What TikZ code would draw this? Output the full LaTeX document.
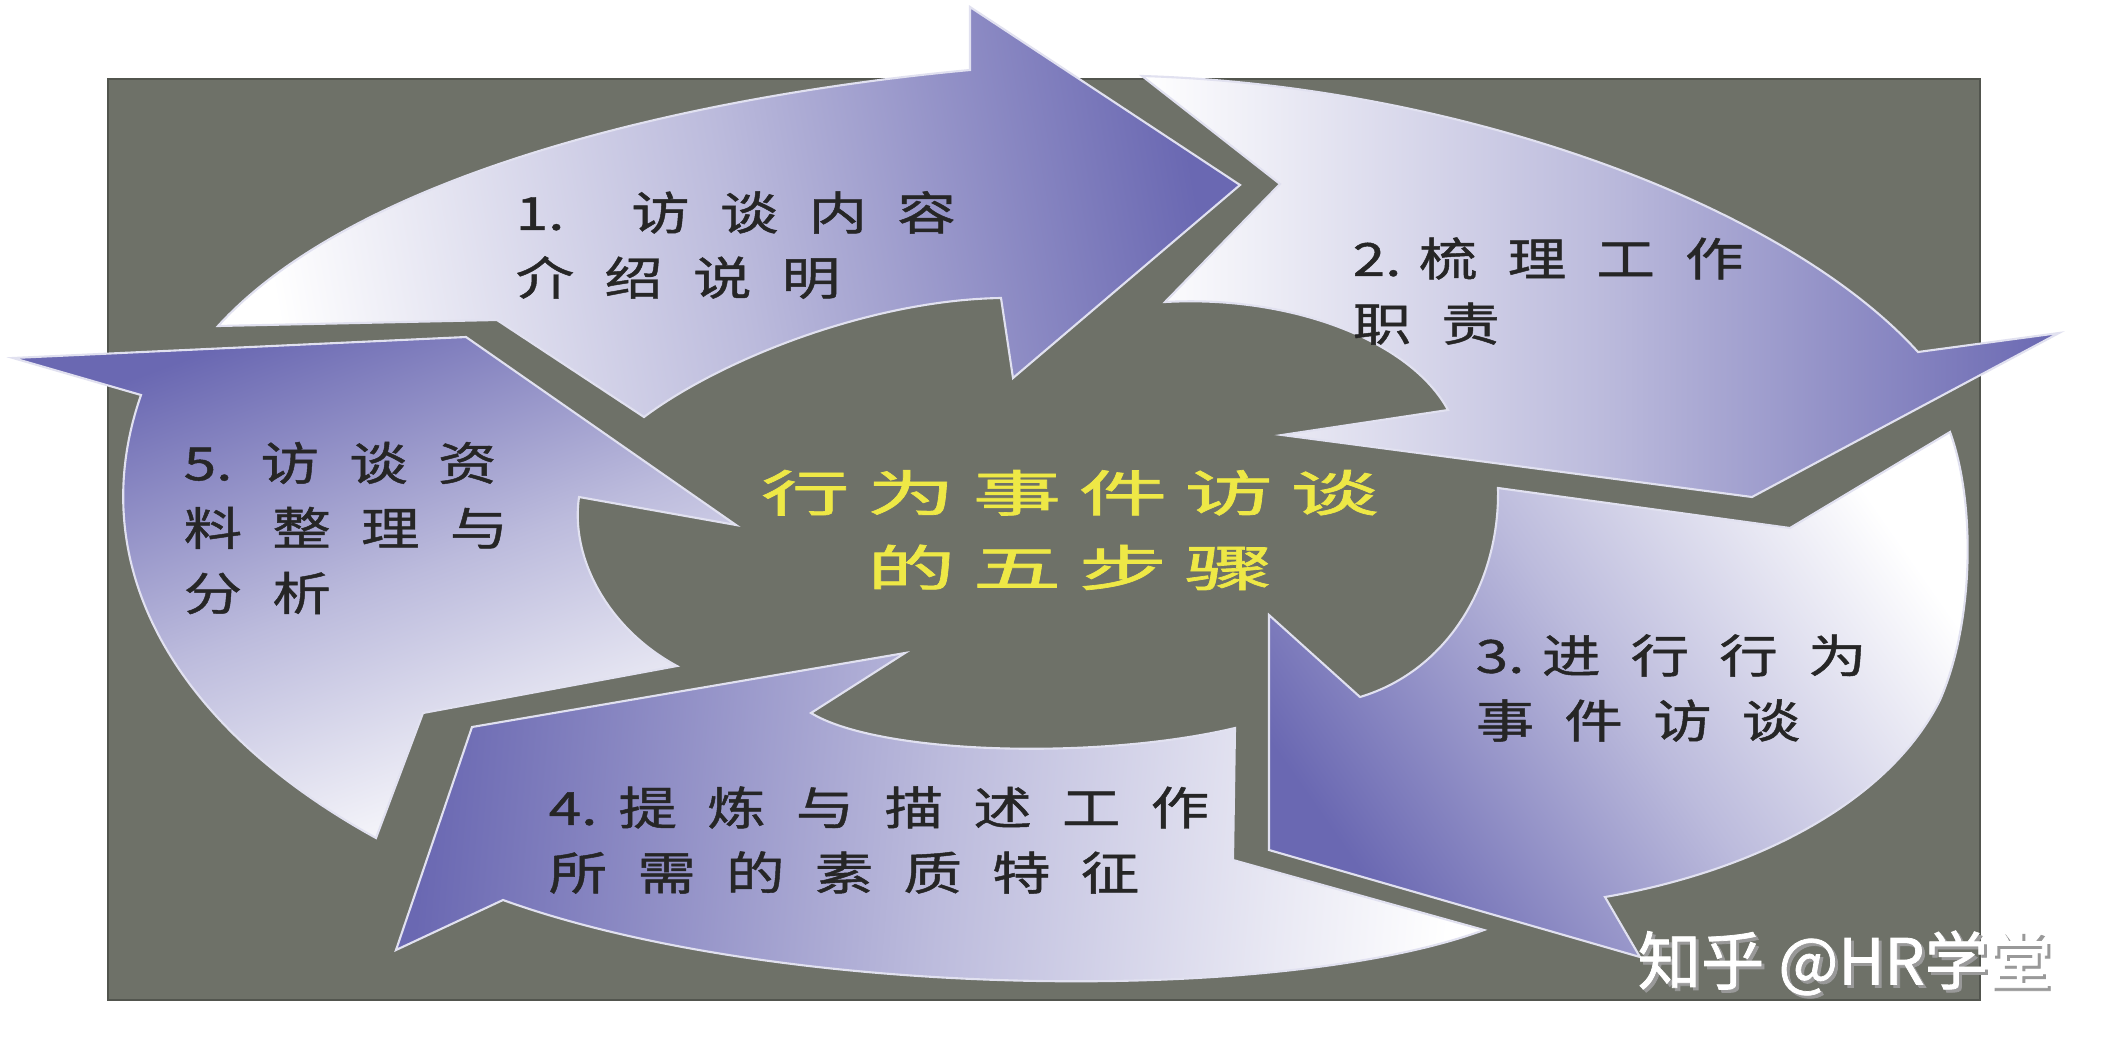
\documentclass[tikz,border=0pt]{standalone}
\usepackage{fontspec}
\newfontfamily\labelfont[FakeStretch=1.28,LetterSpace=66,FakeBold=1]{Noto Sans CJK SC}
\newfontfamily\numfont[FakeStretch=1.28,FakeBold=1]{Noto Sans CJK SC}
\newfontfamily\titlefont[FakeStretch=1.8,LetterSpace=35,FakeBold=1.4]{Noto Sans CJK SC}
\newfontfamily\markfont[FakeBold=1.2]{Noto Sans CJK SC}
\definecolor{bggray}{RGB}{110,113,104}
\definecolor{arrowblue}{RGB}{106,104,178}
\definecolor{titleyellow}{RGB}{238,232,70}
\begin{document}
\begin{tikzpicture}[x=0.01cm,y=-0.01cm,
  arrowfill/.style={top color=arrowblue,bottom color=white,middle color=arrowblue!45!white,shading angle=#1,draw=white!80!arrowblue,line width=.6pt},
  lbl/.style={anchor=west,inner sep=0pt,align=left,text=black!85,font=\labelfont\fontsize{13pt}{18.5pt}\selectfont}]
\useasboundingbox (0,0) rectangle (2108,1051);
\fill[white] (0,0) rectangle (2108,1051);
\draw[fill=bggray,draw=bggray!75!black] (108,79) rectangle (1980,1000);
% five curved arrows, tail white, head blue
\path[arrowfill=-80] (218,326) -- (497,320) -- (644,417) .. controls (720,360) and (870,300) .. (1001,298) -- (1013,378) -- (1240,185) -- (970,7) -- (970,70) .. controls (700,95) and (360,170) .. cycle;
\path[arrowfill=-90] (1142,76) -- (1280,184) -- (1165,302) .. controls (1290,295) and (1410,340) .. (1448,410) -- (1282,435) -- (1752,497) -- (2059,333) -- (1918,352) .. controls (1780,200) and (1450,85) .. cycle;
\path[arrowfill=125] (1498,488) -- (1790,528) -- (1950,432) .. controls (1975,500) and (1975,620) .. (1940,700) .. controls (1890,800) and (1760,870) .. (1605,897) -- (1640,957) -- (1269,850) -- (1269,615) -- (1360,697) .. controls (1450,670) and (1500,580) .. cycle;
\path[arrowfill=85] (1235,728) -- (1233,860) -- (1484,930) .. controls (1280,1005) and (780,1000) .. (503,900) -- (396,950) -- (472,727) -- (905,653) -- (811,713) .. controls (880,755) and (1100,760) .. cycle;
\path[arrowfill=20] (677,666) -- (423,713) -- (376,838) .. controls (180,730) and (80,570) .. (141,395) -- (13,358) -- (466,337) -- (736,525) -- (579,497) .. controls (570,560) and (610,630) .. cycle;
% labels
\node[lbl] (lbl1) at (515,245) {{\numfont 1.}\hspace{19pt}访谈内容\\介绍说明};
\node[lbl] (lbl2) at (1352,291) {{\numfont 2.}\hspace{5pt}梳理工作\\职责};
\node[lbl] (lbl3) at (1475,688) {{\numfont 3.}\hspace{5pt}进行行为\\事件访谈};
\node[lbl] (lbl4) at (548,840) {{\numfont 4.}\hspace{6pt}提炼与描述工作\\所需的素质特征};
\node[lbl] (lbl5) at (183,528) {{\numfont 5.}\hspace{8pt}访谈资\\料整理与\\分析};
\node[inner sep=0pt,align=center,text=titleyellow,font=\titlefont\fontsize{14pt}{21.3pt}\selectfont] (title) at (1070,530) {行为事件访谈\\的五步骤};
% watermark
\node[anchor=west,inner sep=0pt,text=black!40,font=\markfont\fontsize{18pt}{20pt}\selectfont] (markshadow) at (1640,966) {知乎 @HR学堂};
\node[anchor=west,inner sep=0pt,text=white,font=\markfont\fontsize{18pt}{20pt}\selectfont] (mark) at (1637,963) {知乎 @HR学堂};
\end{tikzpicture}
\end{document}
